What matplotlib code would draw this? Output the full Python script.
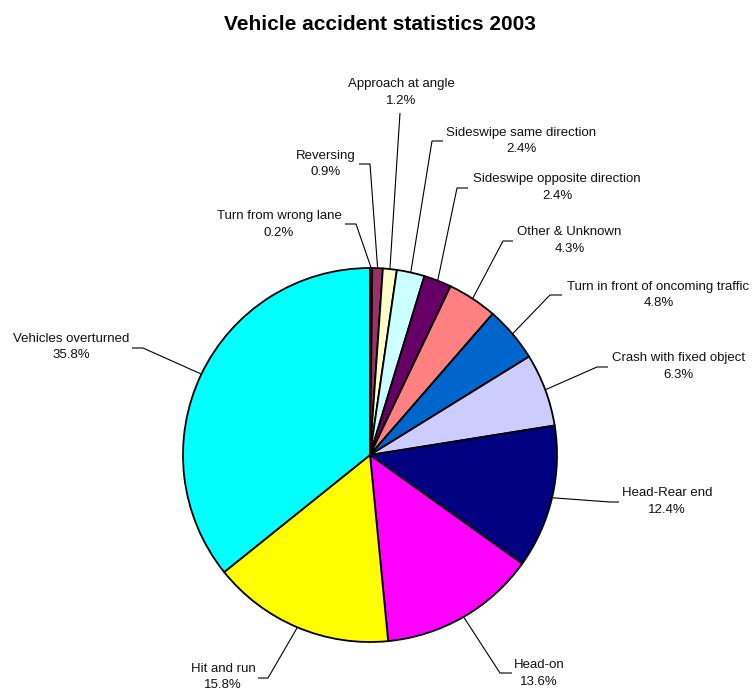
import numpy as np
import matplotlib
matplotlib.use("Agg")
import matplotlib.pyplot as plt

plt.rcParams['font.family'] = ['Liberation Sans', 'DejaVu Sans']

# accident categories, clockwise from 12 o'clock
categories = [
    "Turn from wrong lane", "Reversing", "Approach at angle",
    "Sideswipe same direction", "Sideswipe opposite direction",
    "Other & Unknown", "Turn in front of oncoming traffic",
    "Crash with fixed object", "Head-Rear end", "Head-on",
    "Hit and run", "Vehicles overturned",
]
shares = [0.2, 0.9, 1.2, 2.4, 2.4, 4.3, 4.8, 6.3, 12.4, 13.6, 15.8, 35.8]
colors = ["#9999FF", "#993366", "#FFFFCC", "#CCFFFF", "#660066", "#FF8080",
          "#0066CC", "#CCCCFF", "#000080", "#FF00FF", "#FFFF00", "#00FFFF"]

# label layout in pixels from the top-left corner
label_xy = [(279, 224.5), (326, 164), (401, 92.5), (521, 141), (557, 187.5),
            (569.5, 240.5), (658.5, 295), (678.5, 366.5), (667, 501.5),
            (539, 673.5), (223, 677), (71, 347)]
elbow_xy = [(356, 224), (370, 164), (400, 113), (432, 141), (457, 188),
            (503, 241), (550, 295), (597, 367), (610, 502), (500, 673),
            (268, 678), (143, 348)]
tail = [-11, -11, 0, 11, 11, 10, 12, 11, 9, 12, -10, -11]

W, H = 755, 691
cx, cy, r = 370, H - 455, 187

fig = plt.figure(figsize=(W / 100, H / 100), dpi=100)
ax = fig.add_axes([0, 0, 1, 1])

wedges, _ = ax.pie(shares, colors=colors, startangle=90, counterclock=False,
                   center=(cx, cy), radius=r,
                   wedgeprops=dict(edgecolor="black", linewidth=1.3))

total = sum(shares)
cum = np.cumsum([0] + shares[:-1])
for i, name in enumerate(categories):
    mid = np.deg2rad(90 - (cum[i] + shares[i] / 2) / total * 360)
    px, py = cx + r * np.cos(mid), cy + r * np.sin(mid)
    ex, ey = elbow_xy[i][0], H - elbow_xy[i][1]
    ax.plot([px, ex, ex + tail[i]], [py, ey, ey], color="black", lw=0.8,
            solid_capstyle="butt", zorder=1)
    lx, ly = label_xy[i][0], H - label_xy[i][1]
    ax.text(lx, ly, f"{name}\n{shares[i]:.1f}%", ha="center", va="center",
            multialignment="center", fontsize=9.5, linespacing=1.45,
            color="#111111")

ax.text(380, H - 24, "Vehicle accident statistics 2003", ha="center",
        va="center", fontsize=15, fontweight="bold")

ax.set_xlim(0, W)
ax.set_ylim(0, H)
ax.set_aspect("equal")
ax.axis("off")

fig.savefig("out.png", dpi=100, facecolor="white")
